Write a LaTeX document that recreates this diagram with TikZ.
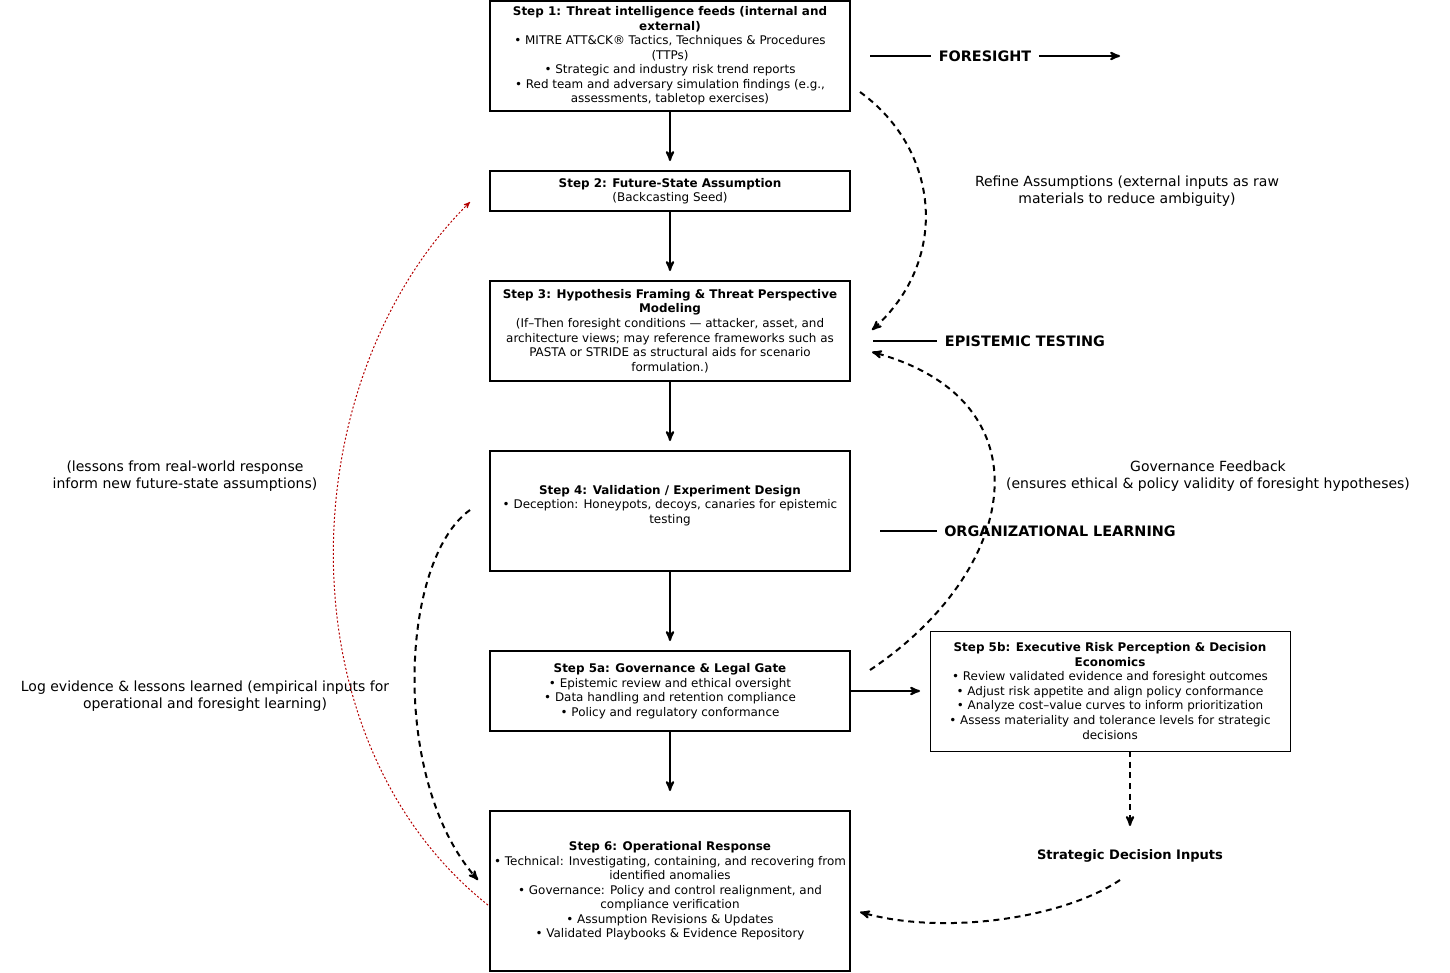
\documentclass[tikz,border=0pt]{standalone}
\usepackage{fontspec}
\setmainfont{DejaVu Sans}
\usetikzlibrary{arrows}
\definecolor{loop_red}{RGB}{180,0,0}

\begin{document}
\begin{tikzpicture}[->,>=stealth',x=0.75pt,y=-0.75pt,line width=1.5pt]
    \tikzstyle{stepbox}=[draw=black, rectangle, line width=1.5pt, minimum width=270pt, align=center, font=\fontsize{8.95}{10.9}\selectfont, inner xsep=0pt, inner ysep=2pt, outer sep=0pt]
    \tikzstyle{note}=[align=center, font=\fontsize{10.5}{12.75}\selectfont]
    \tikzstyle{phase}=[font=\bfseries\fontsize{10.8}{12}\selectfont, inner sep=5pt]
    \tikzstyle{loop}=[dash pattern=on 4.5pt off 3.5pt]
    \useasboundingbox (0,0) rectangle (1450,972);

    % main column
    \node[stepbox, minimum height=82.5pt] (s1) at (670,56) {\textbf{Step 1: Threat intelligence feeds (internal and}\\\textbf{external)}\\
      • MITRE ATT\&CK® Tactics, Techniques \& Procedures\\(TTPs)\\
      • Strategic and industry risk trend reports\\
      • Red team and adversary simulation findings (e.g.,\\assessments, tabletop exercises)};
    \node[stepbox, minimum height=30pt] (s2) at (670,191) {\textbf{Step 2: Future-State Assumption}\\(Backcasting Seed)};
    \node[stepbox, minimum height=75pt] (s3) at (670,331) {\textbf{Step 3: Hypothesis Framing \& Threat Perspective}\\\textbf{Modeling}\\
      (If–Then foresight conditions — attacker, asset, and\\architecture views; may reference frameworks such as\\PASTA or STRIDE as structural aids for scenario\\formulation.)};
    \node[stepbox, minimum height=90pt] (s4) at (670,511) {\textbf{Step 4: Validation / Experiment Design}\\
      • Deception: Honeypots, decoys, canaries for epistemic\\testing\\[-0.5pt]};
    \node[stepbox, minimum height=60pt] (s5a) at (670,691) {\textbf{Step 5a: Governance \& Legal Gate}\\
      • Epistemic review and ethical oversight\\
      • Data handling and retention compliance\\
      • Policy and regulatory conformance};
    \node[stepbox, minimum height=90pt, line width=0.75pt] (s5b) at (1110,691) {\textbf{Step 5b: Executive Risk Perception \& Decision}\\\textbf{Economics}\\
      • Review validated evidence and foresight outcomes\\
      • Adjust risk appetite and align policy conformance\\
      • Analyze cost–value curves to inform prioritization\\
      • Assess materiality and tolerance levels for strategic\\decisions};
    \node[stepbox, minimum height=120pt] (s6) at (670,891) {\textbf{Step 6: Operational Response}\\
      • Technical: Investigating, containing, and recovering from\\identified anomalies\\
      • Governance: Policy and control realignment, and\\compliance verification\\
      • Assumption Revisions \& Updates\\
      • Validated Playbooks \& Evidence Repository};

    % phases and notes
    \node[phase] (fs)  at (985,56)  {FORESIGHT};
    \node[phase] (et)  at (1025,341) {EPISTEMIC TESTING};
    \node[phase] (ol)  at (1060,531) {ORGANIZATIONAL LEARNING};
    \node[phase, inner sep=2pt, font=\bfseries\fontsize{9.8}{12}\selectfont] (sdi) at (1130,856) {Strategic Decision Inputs};
    \node[note] (ra) at (1127,191) {Refine Assumptions (external inputs as raw\\materials to reduce ambiguity)};
    \node[note] (gf) at (1208,476) {Governance Feedback\\(ensures ethical \& policy validity of foresight hypotheses)};
    \node[note] (ls) at (185,476) {(lessons from real-world response\\inform new future-state assumptions)};
    \node[note] (le) at (205,696) {Log evidence \& lessons learned (empirical inputs for\\operational and foresight learning)};

    \coordinate (fsa) at (870,56);
    \coordinate (fsb) at (1120,56);
    \coordinate (eta) at (873,341);
    \coordinate (ola) at (880,531);
    \coordinate (ra1) at (860,92);
    \coordinate (ra2) at (872,330);
    \coordinate (gf1) at (870,670);
    \coordinate (gf2) at (872,352);
    \coordinate (ls1) at (488,905);
    \coordinate (ls2) at (470,202);
    \coordinate (le1) at (470,510);
    \coordinate (le2) at (478,880);
    \coordinate (sd1) at (1120,880);
    \coordinate (sd2) at (860,912);

    \path
     (s1) edge[shorten >=7.5pt] (s2)
     (s2) edge[shorten >=7.5pt] (s3)
     (s3) edge[shorten >=7.5pt] (s4)
     (s4) edge[shorten >=7.5pt] (s5a)
     (s5a) edge[shorten >=15pt] (s6)
     (s5a) edge[shorten >=7.5pt] (s5b)
     (s5b.south -| sdi) edge[loop, shorten >=15pt] (sdi)
     (fsa) edge[-] (fs)
     (fs) edge[] (fsb)
     (eta) edge[-] (et)
     (ola) edge[-] (ol)
     ;
    \draw[loop] (ra1) .. controls (940,150) and (950,260) .. (ra2);
    \draw[loop] (gf1) .. controls (1020,570) and (1050,400) .. (gf2);
    \draw[loop] (le1) .. controls (400,560) and (390,780) .. (le2);
    \draw[loop] (sd1) .. controls (1060,920) and (940,935) .. (sd2);
    \draw[loop_red, line width=0.75pt, dash pattern=on 1.5pt off 1.5pt] (ls1) .. controls (280,740) and (290,380) .. (ls2);
  \end{tikzpicture}
\end{document}
